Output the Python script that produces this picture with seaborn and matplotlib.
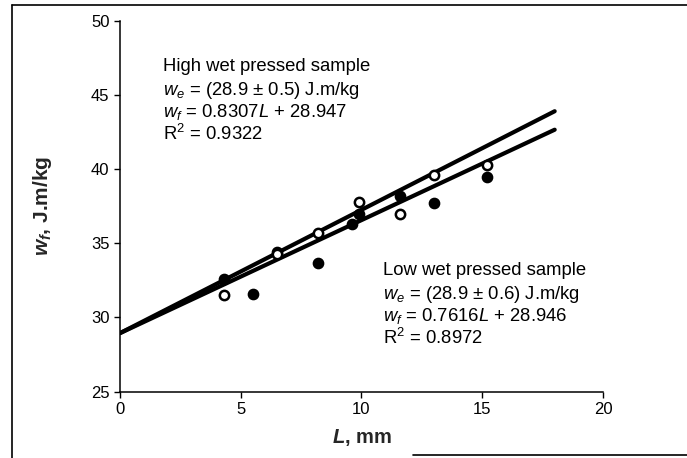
import matplotlib
matplotlib.use("Agg")
import matplotlib.pyplot as plt
import seaborn as sns
import numpy as np
import pandas as pd
from matplotlib.lines import Line2D

# Fracture work measurements, high and low wet pressed samples
high_L = [4.3, 6.5, 8.2, 9.9, 11.6, 13.0, 15.2]
high_wf = [31.5, 34.3, 35.7, 37.8, 37.0, 39.6, 40.3]
low_L = [4.3, 5.5, 6.5, 8.2, 9.6, 9.9, 11.6, 13.0, 15.2]
low_wf = [32.6, 31.6, 34.4, 33.7, 36.3, 37.0, 38.2, 37.7, 39.5]

# Linear fits  w_f = slope * L + intercept
high_fit = (0.8307, 28.947)
low_fit = (0.7616, 28.946)
fit_range = [0, 18]

x_ticks = [0, 5, 10, 15, 20]
y_ticks = [25, 30, 35, 40, 45, 50]

sns.set_theme(style="ticks")
plt.rcParams["font.family"] = ["Liberation Sans", "DejaVu Sans"]
plt.rcParams["mathtext.fontset"] = "custom"
plt.rcParams["mathtext.rm"] = "Liberation Sans"
plt.rcParams["mathtext.it"] = "Liberation Sans:italic"
plt.rcParams["mathtext.bf"] = "Liberation Sans:bold"
plt.rcParams["mathtext.bfit"] = "Liberation Sans:italic:bold"

fig = plt.figure(figsize=(6.87, 4.58), dpi=100)
ax = fig.add_axes([0.1747, 0.1448, 0.703, 0.81])

df_high = pd.DataFrame({"L": high_L, "wf": high_wf})
df_low = pd.DataFrame({"L": low_L, "wf": low_wf})

lines = []
for slope, icpt in (high_fit, low_fit):
    xs = np.array(fit_range, dtype=float)
    lines.append(pd.DataFrame({"L": xs, "wf": slope * xs + icpt}))

for d in lines:
    sns.lineplot(data=d, x="L", y="wf", ax=ax, color="black", lw=3.0,
                 zorder=2, legend=False)

sns.scatterplot(data=df_low, x="L", y="wf", ax=ax, marker="o", s=55,
                color="black", edgecolor="black", linewidth=1.0, zorder=3)
sns.scatterplot(data=df_high, x="L", y="wf", ax=ax, marker="o", s=45,
                facecolor="white", edgecolor="black", linewidth=1.8, zorder=4)

ax.set_xlim(0, 20)
ax.set_ylim(25, 50)
ax.set_xticks(x_ticks)
ax.set_yticks(y_ticks)
ax.tick_params(axis="both", labelsize=12, length=4, width=1, color="black",
               labelcolor="black")
sns.despine(ax=ax)
for s in ("left", "bottom"):
    ax.spines[s].set_color("black")
    ax.spines[s].set_linewidth(1.1)

ax.set_xlabel(r"$\mathbfit{L}$, mm", fontsize=14.5, fontweight="bold", labelpad=7)
ax.set_ylabel(r"$\mathbfit{w_f}$, J.m/kg", fontsize=15, fontweight="bold")
ax.yaxis.set_label_coords(-0.137, 0.5)

fs = 13.3
step = 1.48
hi_lines = ["High wet pressed sample",
            r"$w_e$ = (28.9 ± 0.5) J.m/kg",
            r"$w_f$ = 0.8307$L$ + 28.947",
            r"R$^2$ = 0.9322"]
lo_lines = ["Low wet pressed sample",
            r"$w_e$ = (28.9 ± 0.6) J.m/kg",
            r"$w_f$ = 0.7616$L$ + 28.946",
            r"R$^2$ = 0.8972"]
for i, t in enumerate(hi_lines):
    ax.text(1.78, 47.5 - i * step, t, fontsize=fs, va="top", ha="left",
            color="black")
for i, t in enumerate(lo_lines):
    ax.text(10.9, 33.75 - i * step, t, fontsize=fs, va="top", ha="left",
            color="black")

# outer frame
W, H = 687, 458
def fl(x0, y0, x1, y1):
    fig.add_artist(Line2D([x0 / W, x1 / W], [1 - y0 / H, 1 - y1 / H],
                          color="black", lw=1.2, transform=fig.transFigure))
fl(12, 5, 687, 5)
fl(12, 5, 12, 458)
fl(413, 455, 687, 455)

fig.savefig("out.png", dpi=100)
